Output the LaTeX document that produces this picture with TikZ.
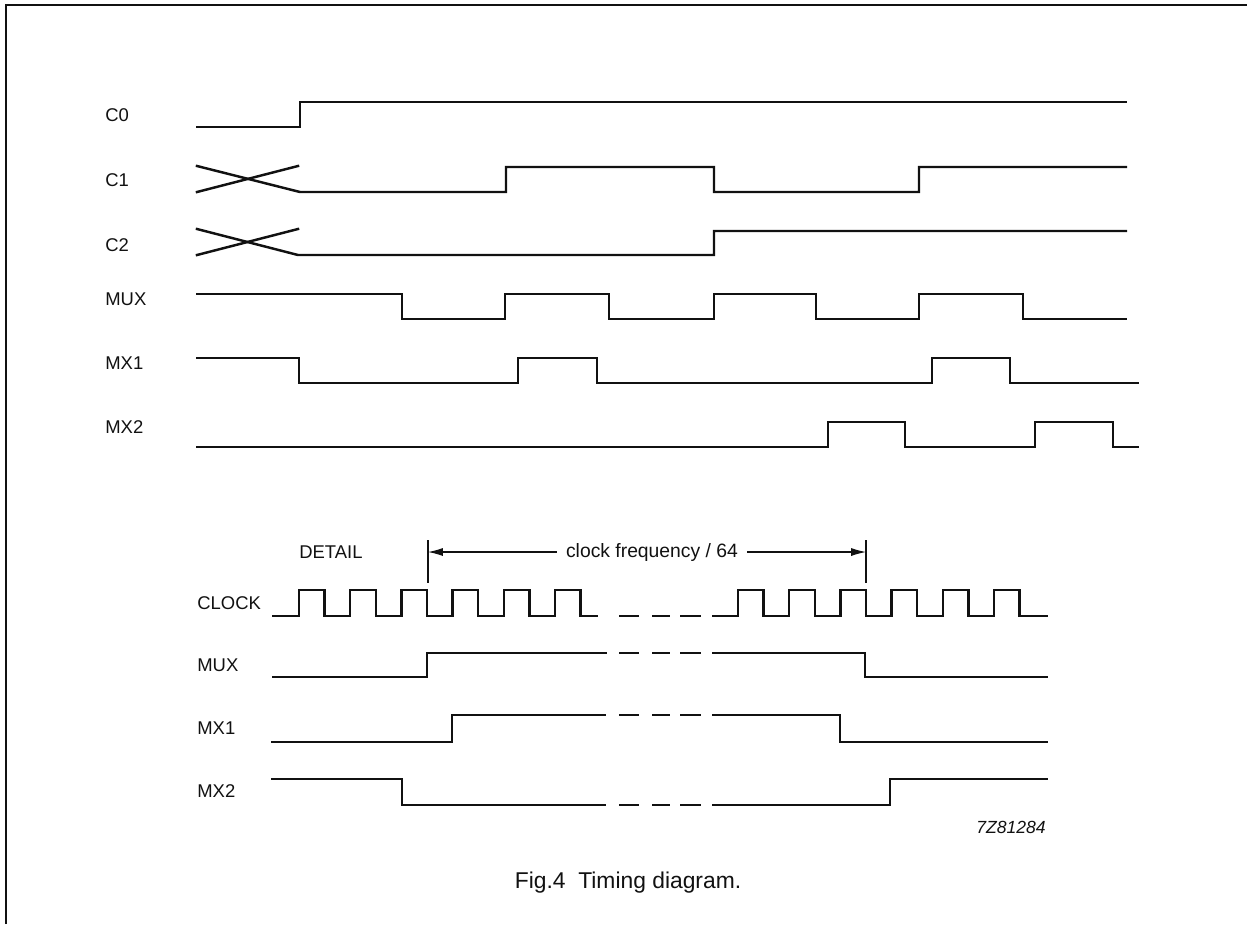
\documentclass[tikz,border=0pt]{standalone}
\usepackage{fontspec}
\setmainfont{Liberation Sans}
\usepackage{tikz}
\usetikzlibrary{arrows.meta}
\definecolor{ink}{HTML}{111111}
\tikzset{
  sig/.style={ink,line width=1.4pt,line cap=rect},
  lbl/.style={font=\fontsize{10.5}{12}\selectfont,color=ink,anchor=west,inner sep=0pt},
  dim/.style={ink,line width=0.6pt}
}
\begin{document}
\begin{tikzpicture}[x=0.02cm,y=-0.02cm]
\useasboundingbox (0,0) rectangle (1247,924);
\draw[ink,line width=1.2pt] (6,924) -- (6,5) -- (1247,5);
% upper diagram: names
\foreach \n/\t/\y in {c0/C0/115,c1/C1/180,c2/C2/245,mux/MUX/299,mxa/MX1/363,mxb/MX2/427}
  \node[lbl] (l\n) at (105,\y) {\t};
\draw[sig] (197,127) -| (300,102) -- (1126,102);
\draw[sig] (197,166) -- (300,192) -| (506,167) -| (714,192) -| (919,167) -- (1126,167);
\draw[sig] (197,192) -- (298,166);
\draw[sig] (197,229) -- (298,255) -| (714,231) -- (1126,231);
\draw[sig] (197,255) -- (298,229);
\draw[sig] (197,294) -| (402,319) -| (505,294) -| (609,319) -| (714,294) -| (816,319) -| (919,294) -| (1023,319) -- (1126,319);
\draw[sig] (197,358) -| (299,383) -| (518,358) -| (597,383) -| (932,358) -| (1010,383) -- (1138,383);
\draw[sig] (197,447) -| (828,422) -| (905,447) -| (1035,422) -| (1113,447) -- (1138,447);
% lower diagram: detail
\node[lbl] (detail) at (299,552) {DETAIL};
\foreach \n/\t/\y in {clk/CLOCK/603,dmux/MUX/665,dmxa/MX1/728,dmxb/MX2/791}
  \node[lbl] (l\n) at (197,\y) {\t};
\coordinate (mkl) at (428,552);
\coordinate (mkr) at (866,552);
\draw[dim] (428,540) -- (428,583);
\draw[dim] (866,540) -- (866,583);
\node[font=\fontsize{11}{13}\selectfont,color=ink,inner xsep=5pt,inner ysep=0pt] (freq) at (652,552) {clock frequency / 64};
\draw[dim,-{Latex[length=8.5pt,width=4.6pt]}] (freq.west) -- (mkl);
\draw[dim,-{Latex[length=8.5pt,width=4.6pt]}] (freq.east) -- (mkr);
% clock pulses, both halves
\foreach \s/\r/\e in {273/299/597,713/738/1047}
  \draw[sig] (\s,616) foreach \i in {0,...,5}{ -- ({\r+51.2*\i},616) |- ({\r+25.6+51.2*\i},590) -- ({\r+25.6+51.2*\i},616) } -- (\e,616);
\draw[sig] (273,677) -| (427,653) -- (606,653);
\draw[sig] (713,653) -| (865,677) -- (1047,677);
\draw[sig] (272,742) -| (452,715) -- (605,715);
\draw[sig] (713,715) -| (840,742) -- (1047,742);
\draw[sig] (272,779) -| (402,805) -- (605,805);
\draw[sig] (713,805) -| (890,779) -- (1047,779);
% broken-off part
\foreach \y in {616,653,715,805}
  \foreach \a/\b in {620/638,653/669,681/700}
    \draw[sig] (\a,\y) -- (\b,\y);
\node[font=\fontsize{10}{12}\selectfont\itshape,color=ink,anchor=east,inner sep=0pt] (code) at (1046,827) {7Z81284};
\node[font=\fontsize{13}{15}\selectfont,color=ink,inner sep=0pt] (caption) at (628,883) {Fig.4\ \ Timing diagram.};
\end{tikzpicture}
\end{document}
